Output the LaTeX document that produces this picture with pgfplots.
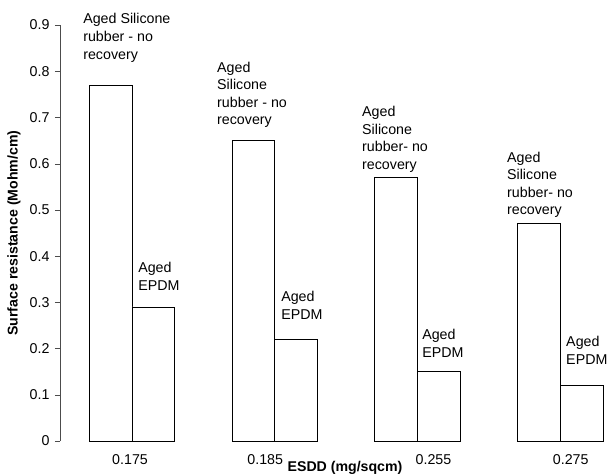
\documentclass[border=0pt]{standalone}
\usepackage{pgfplots}
\pgfplotsset{compat=1.18}
\usepackage{fontspec}
\setmainfont{Liberation Sans}
\tikzset{lbl/.style={anchor=north west, inner sep=0pt, align=left, font=\fontsize{14.3}{17.6}\selectfont}}
\begin{document}
\begin{tikzpicture}
\useasboundingbox (-60bp,-35bp) rectangle (547bp,441bp);
\begin{axis}[
  at={(0,0)}, anchor=south west, scale only axis,
  width=545bp, height=416bp,
  xmin=-0.505, xmax=3.314, ymin=0, ymax=0.9,
  clip=false,
  axis y line*=left, axis x line*=bottom,
  x axis line style={draw=none},
  y axis line style={black!70, -},
  ytick={0,0.1,0.2,0.3,0.4,0.5,0.6,0.7,0.8,0.9},
  ytick align=outside, major tick length=5bp,
  ytick style={black!70},
  xtick style={draw=none},
  tick label style={font=\fontsize{14.3}{17}\selectfont},
  /pgf/number format/assume math mode=true,
  xtick={-0.014,0.933,2.112,3.074},
  xticklabels={0.175,0.185,0.255,0.275},
  xticklabel style={yshift=-10bp},
  yticklabel style={xshift=-2bp},
  ylabel={Surface resistance (Mohm/cm)},
  ylabel style={font=\bfseries\fontsize{14.2}{17}\selectfont, at={(axis description cs:-0.0844,0.5)}, anchor=center},
  xlabel={ESDD (mg/sqcm)},
  xlabel style={font=\bfseries\fontsize{14.2}{17}\selectfont, at={(axis description cs:0.523,-0.0649)}, anchor=center},
]
\addplot[ybar, bar width=0.299, bar shift=-0.15, fill=white, draw=black, line width=0.75bp]
  coordinates {(0,0.77) (1,0.65) (2,0.57) (3,0.47)};
\addplot[ybar, bar width=0.299, bar shift=0.15, fill=white, draw=black, line width=0.75bp]
  coordinates {(0,0.29) (1,0.22) (2,0.15) (3,0.12)};
\node[lbl] at (axis cs:-0.343,0.925) {Aged Silicone\\rubber - no\\recovery};
\node[lbl] at (axis cs:0.595,0.821) {Aged\\Silicone\\rubber - no\\recovery};
\node[lbl] at (axis cs:1.611,0.724) {Aged\\Silicone\\rubber- no\\recovery};
\node[lbl] at (axis cs:2.627,0.626) {Aged\\Silicone\\rubber- no\\recovery};
\node[lbl] at (axis cs:0.042,0.387) {Aged\\EPDM};
\node[lbl] at (axis cs:1.044,0.324) {Aged\\EPDM};
\node[lbl] at (axis cs:2.032,0.242) {Aged\\EPDM};
\node[lbl] at (axis cs:3.041,0.227) {Aged\\EPDM};
\end{axis}
\end{tikzpicture}
\end{document}
